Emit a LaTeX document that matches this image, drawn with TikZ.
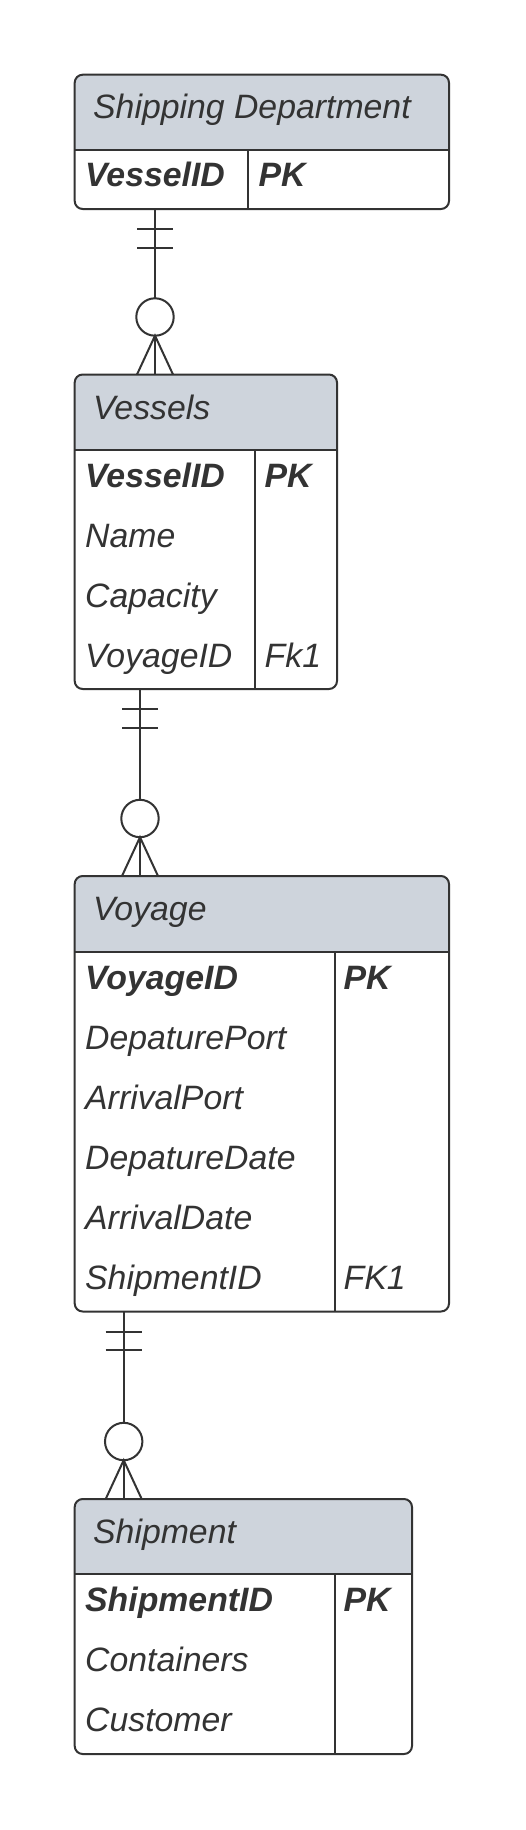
\documentclass[tikz,border=0pt]{standalone}
\usepackage{fontspec}
\setmainfont{Liberation Sans}
\usetikzlibrary{calc}
\definecolor{ink}{RGB}{51,51,51}
\definecolor{hdr}{RGB}{206,212,220}
\begin{document}
\begin{tikzpicture}[x=1pt,y=-1pt,
  entity/.style={draw=none, fill=white, anchor=north west, inner sep=0pt, outer sep=0pt},
  outline/.style={draw=ink, line width=2pt, rounded corners=8pt},
  sep/.style={draw=ink, line width=2pt},
  rel/.style={draw=ink, line width=2pt},
  txt/.style={font=\fontsize{33.8}{40}\selectfont\itshape, text=ink, inner sep=0pt, anchor=base west},
  btxt/.style={txt, font=\fontsize{33.8}{40}\selectfont\bfseries\itshape}]
\useasboundingbox (0,0) rectangle (525,1830);

% ---------- Shipping Department ----------
\node[entity, minimum width=374.3pt, minimum height=134.3pt] (sd) at (74.7,74.7) {};
\begin{scope}
  \clip[rounded corners=8pt] (sd.north west) rectangle (sd.south east);
  \fill[hdr] (sd.north west) rectangle ($(sd.north east)+(0,75)$);
\end{scope}
\draw[sep] ($(sd.north west)+(0,75)$) -- ($(sd.north east)+(0,75)$);
\draw[sep] (248.3,149.7) -- (sd.south -| 248.3,0);
\draw[outline] (sd.north west) rectangle (sd.south east);
\node[txt] (sdh) at (93,119) {Shipping Department};
\node[btxt] (sd1) at (85,187) {VesselID};
\node[btxt] (sd1k) at (258.3,187) {PK};

% ---------- Vessels ----------
\node[entity, minimum width=262.3pt, minimum height=314.5pt] (ves) at (74.7,374.5) {};
\begin{scope}
  \clip[rounded corners=8pt] (ves.north west) rectangle (ves.south east);
  \fill[hdr] (ves.north west) rectangle ($(ves.north east)+(0,75)$);
\end{scope}
\draw[sep] ($(ves.north west)+(0,75)$) -- ($(ves.north east)+(0,75)$);
\draw[sep] (254.5,449.5) -- (ves.south -| 254.5,0);
\draw[outline] (ves.north west) rectangle (ves.south east);
\node[txt] (vesh) at (93,419) {Vessels};
\node[btxt] (ves1) at (85,487.5) {VesselID};
\node[btxt] (ves1k) at (264.5,487.5) {PK};
\node[txt] (ves2) at (85,547.5) {Name};
\node[txt] (ves3) at (85,607.5) {Capacity};
\node[txt] (ves4) at (85,667.5) {VoyageID};
\node[txt] (ves4k) at (264.5,667.5) {Fk1};

% ---------- Voyage ----------
\node[entity, minimum width=374.3pt, minimum height=435.5pt] (voy) at (74.7,876) {};
\begin{scope}
  \clip[rounded corners=8pt] (voy.north west) rectangle (voy.south east);
  \fill[hdr] (voy.north west) rectangle ($(voy.north east)+(0,75.5)$);
\end{scope}
\draw[sep] ($(voy.north west)+(0,75.5)$) -- ($(voy.north east)+(0,75.5)$);
\draw[sep] (334.5,951.5) -- (voy.south -| 334.5,0);
\draw[outline] (voy.north west) rectangle (voy.south east);
\node[txt] (voyh) at (93,920.5) {Voyage};
\node[btxt] (voy1) at (85,989) {VoyageID};
\node[btxt] (voy1k) at (343.5,989) {PK};
\node[txt] (voy2) at (85,1049) {DepaturePort};
\node[txt] (voy3) at (85,1109) {ArrivalPort};
\node[txt] (voy4) at (85,1169) {DepatureDate};
\node[txt] (voy5) at (85,1229) {ArrivalDate};
\node[txt] (voy6) at (85,1289) {ShipmentID};
\node[txt] (voy6k) at (343.5,1289) {FK1};

% ---------- Shipment ----------
\node[entity, minimum width=337.3pt, minimum height=255pt] (shp) at (74.7,1499) {};
\begin{scope}
  \clip[rounded corners=8pt] (shp.north west) rectangle (shp.south east);
  \fill[hdr] (shp.north west) rectangle ($(shp.north east)+(0,75)$);
\end{scope}
\draw[sep] ($(shp.north west)+(0,75)$) -- ($(shp.north east)+(0,75)$);
\draw[sep] (334.5,1574) -- (shp.south -| 334.5,0);
\draw[outline] (shp.north west) rectangle (shp.south east);
\node[txt] (shph) at (93,1543.5) {Shipment};
\node[btxt] (shp1) at (85,1611.5) {ShipmentID};
\node[btxt] (shp1k) at (343.5,1611.5) {PK};
\node[txt] (shp2) at (85,1671.5) {Containers};
\node[txt] (shp3) at (85,1731.5) {Customer};

% ---------- Relationships ----------
\coordinate (x1) at (155,0);
\coordinate (x2) at (140,0);
\coordinate (x3) at (123.7,0);
% sd -> ves
\draw[rel] (sd.south -| x1) -- ($(ves.north -| x1)+(0,-76.2)$);
\draw[rel] ($(sd.south -| x1)+(-18,20)$) -- ++(36,0);
\draw[rel] ($(sd.south -| x1)+(-18,38.5)$) -- ++(36,0);
\draw[rel] ($(ves.north -| x1)+(0,-57.5)$) circle[radius=18.7];
\draw[rel] ($(ves.north -| x1)+(0,-38.8)$) -- (ves.north -| x1);
\draw[rel] ($(ves.north -| x1)+(-18,0)$) -- ($(ves.north -| x1)+(0,-38.8)$) -- ($(ves.north -| x1)+(18,0)$);
% ves -> voy
\draw[rel] (ves.south -| x2) -- ($(voy.north -| x2)+(0,-76.2)$);
\draw[rel] ($(ves.south -| x2)+(-18,20)$) -- ++(36,0);
\draw[rel] ($(ves.south -| x2)+(-18,38.5)$) -- ++(36,0);
\draw[rel] ($(voy.north -| x2)+(0,-57.5)$) circle[radius=18.7];
\draw[rel] ($(voy.north -| x2)+(0,-38.8)$) -- (voy.north -| x2);
\draw[rel] ($(voy.north -| x2)+(-18,0)$) -- ($(voy.north -| x2)+(0,-38.8)$) -- ($(voy.north -| x2)+(18,0)$);
% voy -> shp
\draw[rel] (voy.south -| x3) -- ($(shp.north -| x3)+(0,-76.2)$);
\draw[rel] ($(voy.south -| x3)+(-18,20)$) -- ++(36,0);
\draw[rel] ($(voy.south -| x3)+(-18,38.5)$) -- ++(36,0);
\draw[rel] ($(shp.north -| x3)+(0,-57.5)$) circle[radius=18.7];
\draw[rel] ($(shp.north -| x3)+(0,-38.8)$) -- (shp.north -| x3);
\draw[rel] ($(shp.north -| x3)+(-18,0)$) -- ($(shp.north -| x3)+(0,-38.8)$) -- ($(shp.north -| x3)+(18,0)$);
\end{tikzpicture}
\end{document}
